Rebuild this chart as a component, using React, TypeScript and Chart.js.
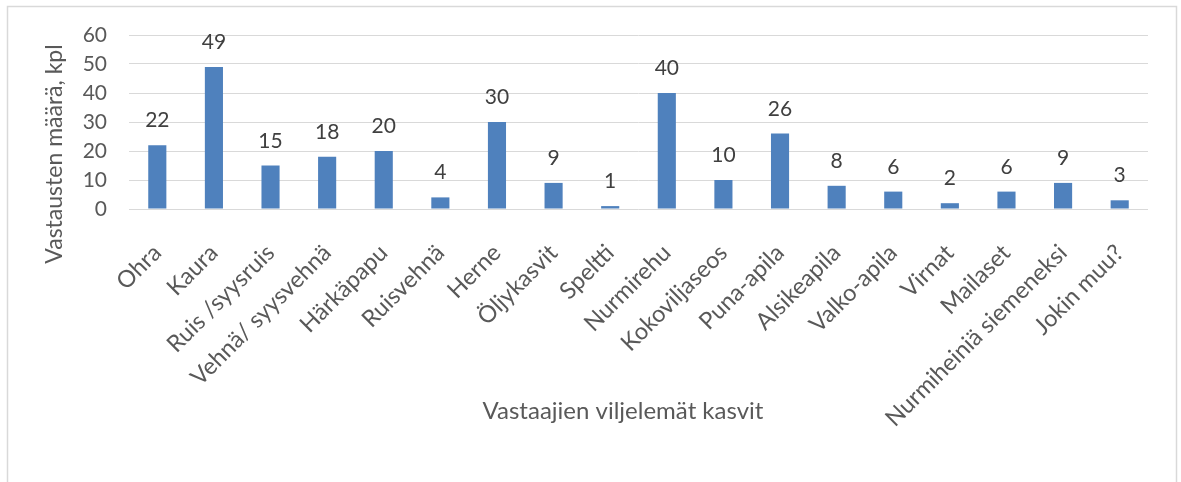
import React, { useEffect, useRef } from "react";
import { Chart, registerables } from "chart.js";

Chart.register(...registerables);

const categories = [
  "Ohra",
  "Kaura",
  "Ruis /syysruis",
  "Vehnä/ syysvehnä",
  "Härkäpapu",
  "Ruisvehnä",
  "Herne",
  "Öljykasvit",
  "Speltti",
  "Nurmirehu",
  "Kokoviljaseos",
  "Puna-apila",
  "Alsikeapila",
  "Valko-apila",
  "Virnat",
  "Mailaset",
  "Nurmiheiniä siemeneksi",
  "Jokin muu?",
];
const counts = [22, 49, 15, 18, 20, 4, 30, 9, 1, 40, 10, 26, 8, 6, 2, 6, 9, 3];
const yMin = 0;
const yMax = 60;
const yStep = 10;
const xTitle = "Vastaajien viljelemät kasvit";
const yTitle = "Vastausten määrä, kpl";

const FONT = "Lato";
const W = 1181;
const H = 482;

const decor = {
  id: "decor",
  beforeDraw(chart: any) {
    const ctx = chart.ctx;
    ctx.save();
    ctx.fillStyle = "#ffffff";
    ctx.fillRect(0, 0, chart.width, chart.height);
    ctx.strokeStyle = "#D9D9D9";
    ctx.lineWidth = 1.5;
    ctx.strokeRect(7.5, 6.5, 1169, 500);
    ctx.restore();
  },
  afterDatasetsDraw(chart: any) {
    const ctx = chart.ctx;
    const meta = chart.getDatasetMeta(0);
    ctx.save();
    ctx.fillStyle = "#404040";
    ctx.font = `21px ${FONT}`;
    ctx.textAlign = "center";
    ctx.textBaseline = "alphabetic";
    meta.data.forEach((bar: any, i: number) => {
      ctx.fillText(String(counts[i]), bar.x, bar.y - 18);
    });
    ctx.restore();
  },
  afterDraw(chart: any) {
    const ctx = chart.ctx;
    ctx.save();
    ctx.fillStyle = "#595959";
    ctx.font = `24px ${FONT}`;
    ctx.textAlign = "center";
    ctx.textBaseline = "middle";
    ctx.fillText(xTitle, 623, 411);
    ctx.font = `23px ${FONT}`;
    ctx.translate(55, 154);
    ctx.rotate(-Math.PI / 2);
    ctx.fillText(yTitle, 0, 0);
    ctx.restore();
  },
};

export default function App() {
  const ref = useRef<HTMLCanvasElement>(null);
  useEffect(() => {
    document.body.style.margin = "0";
    const chart = new Chart(ref.current!, {
      type: "bar",
      data: {
        labels: categories,
        datasets: [
          {
            data: counts,
            backgroundColor: "#4F81BD",
            borderWidth: 0,
            categoryPercentage: 1,
            barPercentage: 0.32,
          },
        ],
      },
      options: {
        animation: false,
        responsive: false,
        devicePixelRatio: 1,
        layout: { padding: { left: 0, right: 33, top: 35, bottom: 0 } },
        plugins: {
          legend: { display: false },
          tooltip: { enabled: false },
          title: { display: false },
        },
        scales: {
          x: {
            grid: { display: false },
            border: { display: false },
            ticks: {
              color: "#595959",
              font: { family: FONT, size: 23.5 },
              minRotation: 45,
              maxRotation: 45,
              autoSkip: false,
              padding: 22,
            },
            afterFit(scale: any) {
              scale.height = H - 209;
            },
          },
          y: {
            min: yMin,
            max: yMax,
            grid: { color: "#D9D9D9", lineWidth: 1, drawTicks: false },
            border: { display: false },
            ticks: {
              stepSize: yStep,
              color: "#595959",
              font: { family: FONT, size: 21 },
              padding: 22,
            },
            afterFit(scale: any) {
              scale.width = 129;
            },
          },
        },
      },
      plugins: [decor],
    });
    return () => chart.destroy();
  }, []);
  return (
    <div style={{ width: W, height: H }}>
      <canvas ref={ref} width={W} height={H} style={{ display: "block" }} />
    </div>
  );
}
